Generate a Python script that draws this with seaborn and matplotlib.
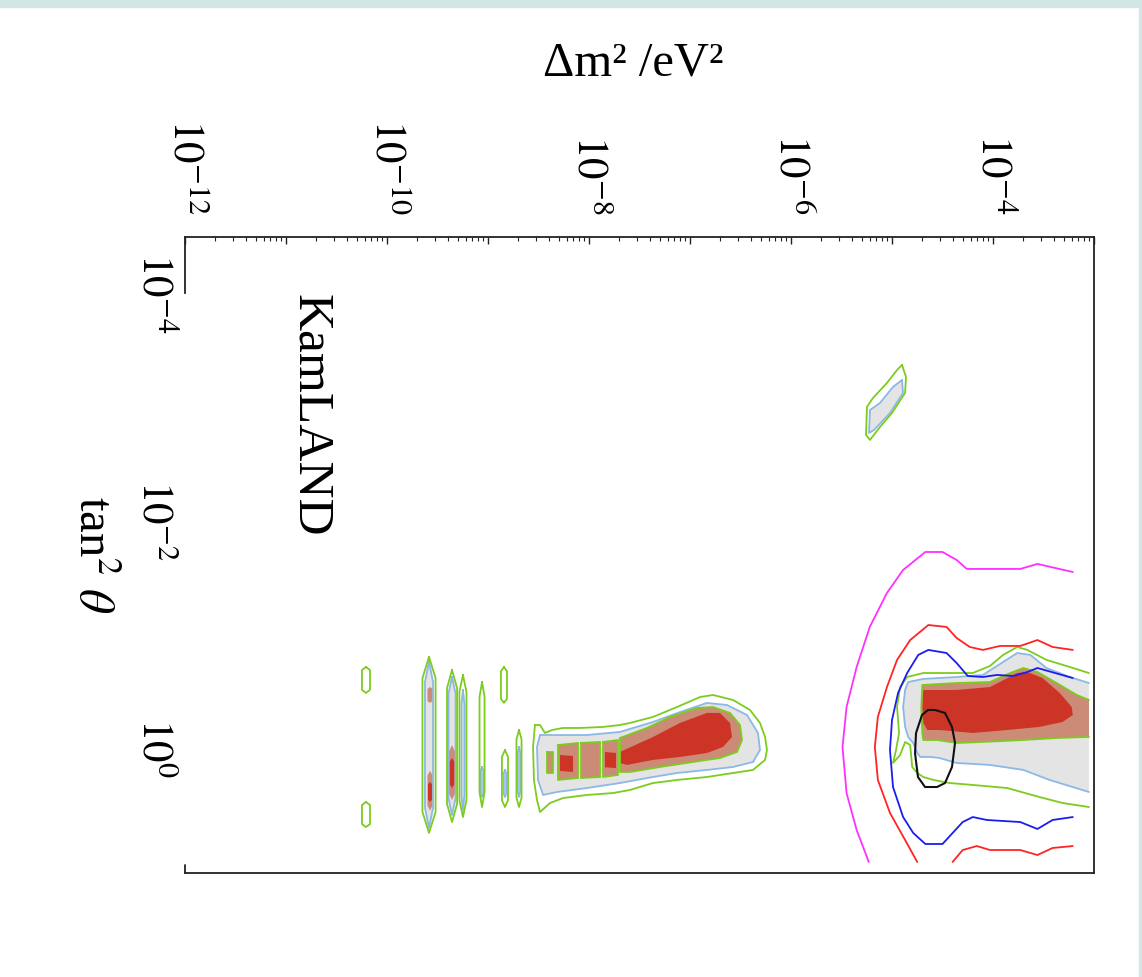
import numpy as np
import matplotlib
matplotlib.use("Agg")
import matplotlib.pyplot as plt
from matplotlib.ticker import FixedLocator, FuncFormatter, LogLocator, NullFormatter, NullLocator
from matplotlib.patches import Rectangle
import seaborn as sns

sns.set_theme(style="white")
plt.rcParams["font.family"] = ["Liberation Serif", "DejaVu Serif"]
plt.rcParams["mathtext.fontset"] = "stix"
plt.rcParams["text.color"] = "black"
plt.rcParams["xtick.color"] = "black"
plt.rcParams["ytick.color"] = "black"
plt.rcParams["xtick.labelcolor"] = "black"
plt.rcParams["ytick.labelcolor"] = "black"

# ---------------------------------------------------------------------------
# Contour vertices, each point is (log10 Δm²/eV², log10 tan²θ)
# ---------------------------------------------------------------------------

# open exclusion curves
MAGENTA_LINE = [(-3.21, -1.547), (-3.56, -1.618), (-3.73, -1.574), (-4.03, -1.574), (-4.26, -1.574),
                (-4.36, -1.653), (-4.50, -1.723), (-4.67, -1.723), (-4.89, -1.565), (-5.05, -1.363),
                (-5.22, -1.064), (-5.35, -0.712), (-5.45, -0.360), (-5.49, -0.009), (-5.45, 0.396),
                (-5.35, 0.721), (-5.23, 1.002)]
RED_LINE_UPPER = [(-3.21, -0.862), (-3.41, -0.888), (-3.56, -0.949), (-3.73, -0.897), (-3.93, -0.897),
                  (-4.10, -0.862), (-4.23, -0.888), (-4.36, -0.967), (-4.46, -1.064), (-4.64, -1.081),
                  (-4.82, -0.949), (-4.95, -0.774), (-5.05, -0.536), (-5.14, -0.273), (-5.17, -0.009),
                  (-5.14, 0.281), (-5.02, 0.571), (-4.87, 0.809), (-4.75, 1.002)]
RED_LINE_LOWER = [(-4.40, 1.002), (-4.30, 0.897), (-4.16, 0.862), (-4.03, 0.897), (-3.73, 0.897),
                  (-3.56, 0.941), (-3.41, 0.879), (-3.21, 0.862)]
BLUE_LINE = [(-3.21, -0.615), (-3.56, -0.703), (-3.66, -0.668), (-3.80, -0.633), (-3.96, -0.642),
             (-4.10, -0.624), (-4.25, -0.633), (-4.36, -0.747), (-4.46, -0.835), (-4.64, -0.862),
             (-4.74, -0.818), (-4.85, -0.659), (-4.94, -0.484), (-5.00, -0.246), (-5.02, 0.018),
             (-4.99, 0.343), (-4.89, 0.607), (-4.79, 0.747), (-4.67, 0.844), (-4.50, 0.844),
             (-4.30, 0.651), (-4.20, 0.607), (-4.06, 0.633), (-3.73, 0.651), (-3.56, 0.712),
             (-3.41, 0.633), (-3.21, 0.607)]
BLACK_LOOP = [(-4.574, -0.334), (-4.475, -0.308), (-4.406, -0.185), (-4.376, -0.044), (-4.406, 0.167),
              (-4.475, 0.308), (-4.554, 0.343), (-4.673, 0.343), (-4.743, 0.255), (-4.772, 0.044),
              (-4.762, -0.132), (-4.703, -0.290), (-4.644, -0.334)]

# large-mixing region at high Δm² (open at the right-hand edge)
UPPER_OUTER = [(-3.05, -0.659), (-3.24, -0.712), (-3.47, -0.774), (-3.66, -0.862), (-3.76, -0.888),
               (-3.90, -0.818), (-4.03, -0.721), (-4.20, -0.659), (-4.43, -0.659), (-4.69, -0.659),
               (-4.85, -0.624), (-4.92, -0.536), (-4.95, -0.360), (-4.93, -0.132), (-4.96, 0.018),
               (-4.99, 0.132), (-4.92, 0.062), (-4.87, -0.053), (-4.82, -0.026), (-4.80, 0.167),
               (-4.75, 0.220), (-4.69, 0.255), (-4.59, 0.281), (-4.43, 0.308), (-4.20, 0.325),
               (-3.86, 0.352), (-3.54, 0.431), (-3.31, 0.484), (-3.05, 0.519)]
UPPER_MID = [(-3.05, -0.571), (-3.24, -0.624), (-3.47, -0.703), (-3.63, -0.818), (-3.76, -0.835),
             (-3.90, -0.756), (-4.10, -0.642), (-4.36, -0.624), (-4.69, -0.607), (-4.84, -0.580),
             (-4.87, -0.510), (-4.89, -0.360), (-4.87, -0.185), (-4.84, -0.097), (-4.79, -0.044),
             (-4.75, 0.044), (-4.72, 0.079), (-4.62, 0.079), (-4.53, 0.088), (-4.36, 0.132),
             (-4.03, 0.149), (-3.70, 0.193), (-3.44, 0.281), (-3.05, 0.387)]
UPPER_INNER = [(-3.05, -0.422), (-3.17, -0.466), (-3.37, -0.571), (-3.56, -0.668), (-3.70, -0.703),
               (-3.83, -0.659), (-4.03, -0.580), (-4.36, -0.571), (-4.70, -0.554), (-4.71, -0.360),
               (-4.70, -0.132), (-4.69, -0.070), (-4.55, -0.070), (-4.36, -0.044), (-4.10, -0.053),
               (-3.70, -0.070), (-3.37, -0.088), (-3.05, -0.097)]
UPPER_CORE = [(-4.69, -0.510), (-4.36, -0.510), (-4.03, -0.536), (-3.76, -0.659), (-3.66, -0.668),
              (-3.51, -0.615), (-3.34, -0.484), (-3.22, -0.360), (-3.21, -0.290), (-3.31, -0.229),
              (-3.54, -0.185), (-3.86, -0.158), (-4.20, -0.132), (-4.53, -0.158), (-4.65, -0.158),
              (-4.69, -0.220), (-4.70, -0.360)]

# small island at low mixing
ISLAND_OUTER = [(-4.901, -3.367), (-4.861, -3.262), (-4.871, -3.121), (-5.000, -2.945), (-5.119, -2.822),
                (-5.218, -2.708), (-5.257, -2.752), (-5.248, -2.998), (-5.188, -3.077), (-5.050, -3.209),
                (-4.950, -3.323)]
ISLAND_MID = [(-4.901, -3.235), (-4.891, -3.121), (-5.020, -2.945), (-5.178, -2.796), (-5.228, -2.769),
              (-5.218, -2.971), (-5.119, -3.033), (-4.990, -3.174)]

# band around Δm² ~ 1e-7
LOWER_OUTER = [(-8.535, -0.202), (-8.485, -0.202), (-8.436, -0.132), (-8.366, -0.158), (-8.257, -0.176),
               (-8.089, -0.176), (-7.861, -0.185), (-7.693, -0.202), (-7.594, -0.220), (-7.366, -0.273),
               (-7.129, -0.360), (-6.901, -0.448), (-6.772, -0.466), (-6.574, -0.422), (-6.406, -0.334),
               (-6.307, -0.220), (-6.257, -0.097), (-6.238, 0.018), (-6.257, 0.105), (-6.376, 0.193),
               (-6.574, 0.220), (-6.832, 0.255), (-7.129, 0.281), (-7.366, 0.308), (-7.594, 0.369),
               (-7.762, 0.396), (-8.020, 0.413), (-8.257, 0.440), (-8.386, 0.484), (-8.485, 0.563),
               (-8.515, 0.457), (-8.545, 0.281), (-8.554, -0.009)]
LOWER_MID = [(-8.485, -0.114), (-8.317, -0.114), (-8.020, -0.114), (-7.693, -0.141), (-7.366, -0.229),
             (-7.099, -0.316), (-6.832, -0.396), (-6.634, -0.378), (-6.436, -0.290), (-6.327, -0.132),
             (-6.307, 0.018), (-6.376, 0.123), (-6.574, 0.167), (-6.832, 0.193), (-7.129, 0.220),
             (-7.366, 0.255), (-7.693, 0.308), (-8.020, 0.352), (-8.317, 0.387), (-8.455, 0.413),
             (-8.505, 0.281), (-8.515, -0.009)]
LOWER_INNER = [(-7.693, -0.088), (-7.426, -0.176), (-7.198, -0.273), (-6.931, -0.352), (-6.772, -0.360),
               (-6.604, -0.308), (-6.505, -0.202), (-6.485, -0.070), (-6.535, 0.035), (-6.703, 0.088),
               (-6.970, 0.123), (-7.297, 0.167), (-7.594, 0.211), (-7.693, 0.211)]
LOWER_CORE = [(-7.693, 0.035), (-7.366, -0.097), (-7.099, -0.220), (-6.832, -0.308), (-6.703, -0.308),
              (-6.604, -0.220), (-6.584, -0.097), (-6.673, -0.009), (-6.832, 0.044), (-7.099, 0.079),
              (-7.366, 0.105), (-7.624, 0.149), (-7.693, 0.132)]
LOWER_INNER_BLOCKS = [
    [(-8.416, 0.035), (-8.356, 0.035), (-8.356, 0.220), (-8.416, 0.220)],
    [(-8.307, -0.026), (-8.109, -0.044), (-8.109, 0.264), (-8.307, 0.281)],
    [(-8.079, -0.044), (-7.891, -0.053), (-7.891, 0.255), (-8.079, 0.264)],
    [(-7.861, -0.053), (-7.713, -0.070), (-7.713, 0.237), (-7.861, 0.255)],
]
LOWER_CORE_BLOBS = [
    [(-8.287, 0.062), (-8.158, 0.070), (-8.158, 0.211), (-8.287, 0.202)],
    [(-7.842, 0.035), (-7.733, 0.044), (-7.733, 0.176), (-7.842, 0.170)],
]

# narrow vertical islands at Δm² ~ 1e-10 .. 1e-9: (log Δm² centre, half width, log tan² top, log tan² bottom)
STRIPES_OUTER = [(-10.208, 0.040, -0.712, -0.484), (-10.208, 0.040, 0.475, 0.695),
                 (-9.584, 0.065, -0.800, 0.747), (-9.356, 0.050, -0.686, 0.651),
                 (-9.248, 0.035, -0.642, 0.607), (-9.059, 0.025, -0.580, 0.519),
                 (-8.842, 0.030, -0.712, -0.396), (-8.832, 0.030, 0.018, 0.519),
                 (-8.693, 0.025, -0.158, 0.519)]
STRIPES_MID = [(-9.584, 0.040, -0.756, 0.703), (-9.356, 0.035, -0.624, 0.589),
               (-9.248, 0.015, -0.510, 0.545), (-9.059, 0.012, 0.167, 0.431),
               (-8.832, 0.012, 0.193, 0.431), (-8.693, 0.012, -0.009, 0.431)]
STRIPES_INNER = [(-9.574, 0.025, -0.536, -0.396), (-9.574, 0.025, 0.200, 0.550),
                 (-9.356, 0.030, -0.026, 0.457)]
STRIPES_CORE = [(-9.574, 0.020, 0.299, 0.475), (-9.356, 0.022, 0.088, 0.352)]

X_MAJOR_EXP = list(range(-12, -2))
Y_MAJOR_EXP = [-4, -2, 0]

GREEN = "#7ccc1e"
LIGHTBLUE = "#8cb8e8"
GRAY = "#e4e4e4"
ROSE = "#cc8b77"
CORE = "#cc3426"
MAGENTA = "#ff30ff"
REDLINE = "#ff2424"
BLUE = "#1c1cee"
LW = 1.3

fig = plt.figure(figsize=(11.42, 9.77), dpi=100)
fig.patch.set_facecolor("white")
fig.patches.append(Rectangle((0, 1 - 7 / 977), 1, 7 / 977, transform=fig.transFigure,
                             color="#d3e6e6", zorder=0))
fig.patches.append(Rectangle((1 - 3 / 1142, 0), 3 / 1142, 1, transform=fig.transFigure,
                             color="#d3e6e6", zorder=0))

ax = fig.add_axes([185 / 1142, 1 - 873 / 977, 909 / 1142, 636 / 977])
ax.set_xscale("log")
ax.set_yscale("log")
ax.set_facecolor("white")


def to_xy(pts, closed=False):
    arr = np.asarray(pts + pts[:1] if closed else pts, dtype=float)
    return 10 ** arr[:, 0], 10 ** arr[:, 1]


def lens(xc, hw, y0, y1):
    d = 0.12 * (y1 - y0)
    return [(xc, y0), (xc + hw, y0 + d), (xc + hw, y1 - d), (xc, y1),
            (xc - hw, y1 - d), (xc - hw, y0 + d)]


def fill(pts, color, z):
    x, y = to_xy(pts)
    ax.fill(x, y, color=color, lw=0, zorder=z)


def outline(pts, color, z, closed=False, lw=LW):
    x, y = to_xy(pts, closed)
    sns.lineplot(x=x, y=y, sort=False, estimator=None, color=color, lw=lw, ax=ax, zorder=z)


# filled confidence levels
for poly in [UPPER_MID, ISLAND_MID, LOWER_MID] + [lens(*s) for s in STRIPES_MID]:
    fill(poly, GRAY, 1)
for poly in [UPPER_INNER, LOWER_INNER] + LOWER_INNER_BLOCKS + [lens(*s) for s in STRIPES_INNER]:
    fill(poly, ROSE, 2)
for poly in [UPPER_CORE, LOWER_CORE] + LOWER_CORE_BLOBS + [lens(*s) for s in STRIPES_CORE]:
    fill(poly, CORE, 3)

# contour outlines
outline(UPPER_MID, LIGHTBLUE, 4)
for poly in [ISLAND_MID, LOWER_MID] + [lens(*s) for s in STRIPES_MID]:
    outline(poly, LIGHTBLUE, 4, closed=True)
outline(UPPER_INNER, GREEN, 5)
outline(UPPER_OUTER, GREEN, 5)
for poly in [LOWER_INNER] + LOWER_INNER_BLOCKS:
    outline(poly, GREEN, 5, closed=True)
for poly in [ISLAND_OUTER, LOWER_OUTER] + [lens(*s) for s in STRIPES_OUTER]:
    outline(poly, GREEN, 5, closed=True)

# exclusion curves and best-fit loop
outline(MAGENTA_LINE, MAGENTA, 6)
outline(RED_LINE_UPPER, REDLINE, 6)
outline(RED_LINE_LOWER, REDLINE, 6)
outline(BLUE_LINE, BLUE, 6)
outline(BLACK_LOOP, "#111111", 7, closed=True, lw=1.5)

# axes limits and scales
ax.set_xlim(1e-12, 10 ** -3.0)
ax.set_ylim(10 ** 1.099, 10 ** -4.492)
ax.set_xlabel("")
ax.set_ylabel("")

ax.xaxis.set_ticks_position("top")
ax.xaxis.set_major_locator(FixedLocator([10.0 ** e for e in X_MAJOR_EXP]))
ax.xaxis.set_minor_locator(LogLocator(base=10, subs=np.arange(2, 10), numticks=60))
ax.xaxis.set_minor_formatter(NullFormatter())


def xfmt(v, pos):
    e = int(round(np.log10(v)))
    return rf"$10^{{{e}}}$" if e % 2 == 0 else ""


ax.xaxis.set_major_formatter(FuncFormatter(xfmt))
ax.yaxis.set_major_locator(FixedLocator([10.0 ** e for e in Y_MAJOR_EXP]))
ax.yaxis.set_minor_locator(NullLocator())
ax.yaxis.set_major_formatter(FuncFormatter(lambda v, p: rf"$10^{{{int(round(np.log10(v)))}}}$"))

ax.tick_params(axis="x", which="major", direction="in", length=5, width=1.0, color="#222222",
               top=True, bottom=False, labeltop=True, labelbottom=False, labelcolor="black",
               pad=16, labelsize=31, labelrotation=-90)
ax.tick_params(axis="x", which="minor", direction="in", length=3, width=0.8, color="#222222",
               top=True, bottom=False)
ax.tick_params(axis="y", which="both", length=0, left=False, right=False, labelleft=True,
               labelcolor="black", pad=8, labelsize=31, labelrotation=-90)
for lbl in ax.get_yticklabels():
    lbl.set_verticalalignment("center")

for side in ["top", "right", "bottom", "left"]:
    ax.spines[side].set_color("#222222")
    ax.spines[side].set_linewidth(1.3)
    ax.spines[side].set_visible(True)
ax.spines["left"].set_bounds(10 ** -4.492, 10 ** -4.0)
ax.axvline(1e-12, ymin=0.0, ymax=0.012, color="#222222", lw=1.3, zorder=8, clip_on=False)

# titles and annotation
fig.text(633 / 1142, 1 - 63 / 977, "Δm² /eV²", fontsize=35, ha="center", va="center", color="black")
fig.text(310 / 1142, 1 - 415 / 977, "KamLAND", fontsize=37, ha="center", va="center", rotation=-90,
         color="black")
fig.text(92 / 1142, 1 - 555 / 977, r"tan$^{2}$ $\theta$", fontsize=35, ha="center", va="center",
         rotation=-90, color="black")

fig.savefig("out.png", dpi=100, facecolor="white")
